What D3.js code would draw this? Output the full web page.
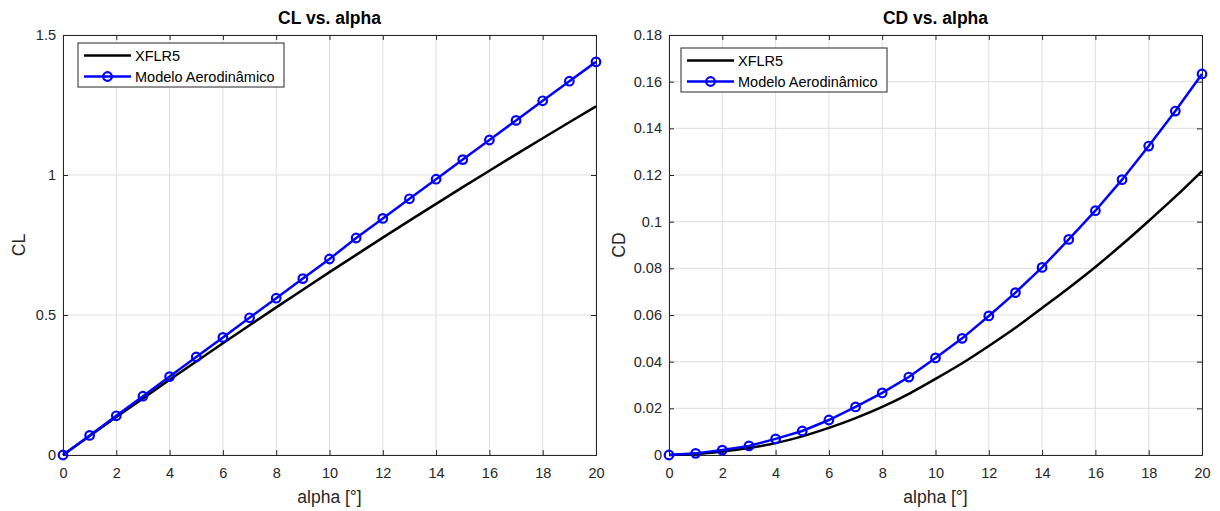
<!DOCTYPE html>
<html><head><meta charset="utf-8">
<script src="https://cdn.jsdelivr.net/npm/d3@7"></script>
<style>body{margin:0;background:#fff;} text{font-family:"Liberation Sans",Arial,sans-serif;}</style>
</head><body><svg id="c" width="1220" height="511"></svg>
<script>
const alpha = [0,1,2,3,4,5,6,7,8,9,10,11,12,13,14,15,16,17,18,19,20];
const clXflr = [0,0.068,0.1354,0.2022,0.2684,0.334,0.399,0.4634,0.5272,0.5904,0.653,0.7149,0.7762,0.8369,0.897,0.9565,1.0154,1.0737,1.1314,1.1885,1.245];
const clModel = [0,0.07,0.14,0.21,0.28,0.35,0.42,0.49,0.56,0.63,0.70,0.775,0.845,0.915,0.985,1.055,1.125,1.195,1.265,1.335,1.404];
const cdXflr = [0,0.0004,0.0015,0.003,0.0051,0.008,0.0116,0.0158,0.0206,0.0262,0.0326,0.0393,0.0467,0.0545,0.063,0.0716,0.0806,0.0902,0.1003,0.1107,0.1217];
const cdModel = [0,0.0007,0.0021,0.0039,0.0069,0.0103,0.015,0.0206,0.0266,0.0334,0.0416,0.050,0.0596,0.0696,0.0804,0.0924,0.1047,0.118,0.1324,0.1474,0.1633];
const xTicks = [0,2,4,6,8,10,12,14,16,18,20];
const clTicks = [0,0.5,1,1.5];
const cdTicks = [0,0.02,0.04,0.06,0.08,0.1,0.12,0.14,0.16,0.18];
const legendNames = ["XFLR5","Modelo Aerodinâmico"];

const svg = d3.select("#c");
const axCol = "#262626";

function panel(o){
  const g = svg.append("g");
  const x = d3.scaleLinear().domain([0,20]).range([o.x0,o.x1]);
  const y = d3.scaleLinear().domain(o.ydom).range([455,35]);
  g.selectAll(".gx").data(xTicks).enter().append("line")
    .attr("x1",d=>x(d)).attr("x2",d=>x(d)).attr("y1",35).attr("y2",455)
    .attr("stroke","#dfdfdf").attr("stroke-width",1);
  g.selectAll(".gy").data(o.ticks).enter().append("line")
    .attr("x1",o.x0).attr("x2",o.x1).attr("y1",d=>y(d)).attr("y2",d=>y(d))
    .attr("stroke","#dfdfdf").attr("stroke-width",1);
  const xb = g.append("g").attr("transform","translate(0,455)").call(d3.axisBottom(x).tickValues(xTicks).tickSize(-5).tickPadding(13).tickFormat(d3.format("d")));
  const xt = g.append("g").attr("transform","translate(0,35)").call(d3.axisTop(x).tickValues(xTicks).tickSize(-5).tickFormat(""));
  const yl = g.append("g").attr("transform",`translate(${o.x0},0)`).call(d3.axisLeft(y).tickValues(o.ticks).tickSize(-5).tickPadding(7).tickFormat(o.fmt));
  const yr = g.append("g").attr("transform",`translate(${o.x1},0)`).call(d3.axisRight(y).tickValues(o.ticks).tickSize(-5).tickFormat(""));
  [xb,xt,yl,yr].forEach(a=>{
    a.select(".domain").attr("stroke",axCol).attr("stroke-width",1);
    a.selectAll(".tick line").attr("stroke",axCol);
    a.selectAll("text").attr("fill",axCol).style("font-size","14.5px").style("font-family","Liberation Sans, Arial, sans-serif");
  });
  g.append("path").datum(o.s1).attr("d",d3.line().x((d,i)=>x(alpha[i])).y(d=>y(d)).curve(d3.curveMonotoneX)).attr("fill","none").attr("stroke","#000").attr("stroke-width",2.5);
  g.append("path").datum(o.s2).attr("d",d3.line().x((d,i)=>x(alpha[i])).y(d=>y(d))).attr("fill","none").attr("stroke","#0000ff").attr("stroke-width",2.5);
  g.selectAll(".m").data(o.s2).enter().append("circle")
    .attr("cx",(d,i)=>x(alpha[i])).attr("cy",d=>y(d)).attr("r",4.3)
    .attr("fill","none").attr("stroke","#0000ff").attr("stroke-width",2.2);
  g.append("text").attr("x",(o.x0+o.x1)/2).attr("y",24).attr("text-anchor","middle")
    .style("font-size","17.5px").style("font-weight","bold").attr("fill","#000").text(o.title);
  g.append("text").attr("x",(o.x0+o.x1)/2).attr("y",503).attr("text-anchor","middle")
    .style("font-size","17.5px").attr("fill",axCol).text("alpha [°]");
  g.append("text").attr("transform",`translate(${o.ylx},245) rotate(-90)`).attr("text-anchor","middle")
    .style("font-size","17.5px").attr("fill",axCol).text(o.ylab);
  const lg = g.append("g").attr("transform",`translate(${o.lx},${o.ly})`);
  lg.append("rect").attr("x",0).attr("y",0).attr("width",206).attr("height",44)
    .attr("fill","#fff").attr("stroke",axCol).attr("stroke-width",1);
  legendNames.forEach((n,i)=>{
    const yy = 12.5 + i*21;
    lg.append("line").attr("x1",6).attr("x2",53).attr("y1",yy).attr("y2",yy)
      .attr("stroke",i===0?"#000":"#0000ff").attr("stroke-width",2.5);
    if(i===1) lg.append("circle").attr("cx",29.5).attr("cy",yy).attr("r",4.3).attr("fill","none").attr("stroke","#0000ff").attr("stroke-width",2.2);
    lg.append("text").attr("x",57).attr("y",yy+5.5).style("font-size","14.5px").attr("fill","#000").text(n);
  });
}

panel({x0:63,x1:596,ydom:[0,1.5],ticks:clTicks,fmt:d3.format("~g"),s1:clXflr,s2:clModel,title:"CL vs. alpha",ylab:"CL",ylx:25,lx:78,ly:43});
panel({x0:669,x1:1202,ydom:[0,0.18],ticks:cdTicks,fmt:d3.format("~g"),s1:cdXflr,s2:cdModel,title:"CD vs. alpha",ylab:"CD",ylx:625,lx:681,ly:48});
</script></body></html>
